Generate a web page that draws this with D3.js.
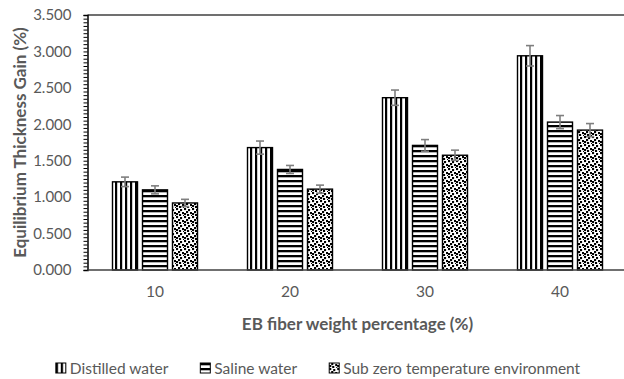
<!doctype html>
<html>
<body>
<style type="text/css">
    html,body{
        margin: 0;
        overflow: hidden;
        background: #fff;
    }
    text {
        font-family: Lato, "Open Sans", sans-serif;
        fill: #595959;
    }
</style>
<script src="https://cdn.jsdelivr.net/npm/d3@7"></script>
<script type="text/javascript">
var categories = ["10", "20", "30", "40"];
var seriesNames = ["Distilled water", "Saline water", "Sub zero temperature environment"];
var distilled = [1.21, 1.68, 2.365, 2.94];
var saline = [1.10, 1.38, 1.71, 2.03];
var subZero = [0.92, 1.11, 1.575, 1.92];
var distilledErr = [0.065, 0.09, 0.105, 0.14];
var salineErr = [0.055, 0.055, 0.08, 0.09];
var subZeroErr = [0.05, 0.055, 0.07, 0.09];
var yTicks = [0, 0.5, 1, 1.5, 2, 2.5, 3, 3.5];

(function(){
    var w = 624, h = 379,
        left = 87.5, right = 627.5, top = 15, bottom = 270;

    var values = [distilled, saline, subZero],
        errors = [distilledErr, salineErr, subZeroErr],
        patterns = ["pVert", "pHoriz", "pDots"];

    var svg = d3.select("body").append("svg")
        .attr("width", w)
        .attr("height", h);

    // patterns
    var defs = svg.append("defs");
    var pv = defs.append("pattern").attr("id", "pVert")
        .attr("patternUnits", "userSpaceOnUse").attr("width", 5).attr("height", 5);
    pv.append("rect").attr("width", 5).attr("height", 5).attr("fill", "#fff");
    pv.append("rect").attr("x", 0).attr("width", 2.2).attr("height", 5).attr("fill", "#000");

    var ph = defs.append("pattern").attr("id", "pHoriz")
        .attr("patternUnits", "userSpaceOnUse").attr("width", 5).attr("height", 5);
    ph.append("rect").attr("width", 5).attr("height", 5).attr("fill", "#fff");
    ph.append("rect").attr("y", 0).attr("width", 5).attr("height", 2.3).attr("fill", "#000");

    var pd = defs.append("pattern").attr("id", "pDots")
        .attr("patternUnits", "userSpaceOnUse").attr("width", 8).attr("height", 8);
    pd.append("rect").attr("width", 8).attr("height", 8).attr("fill", "#fff");
    [[0,0],[4,1],[2,3],[6,4],[0,5],[3,6],[7,7]].forEach(function(p){
        pd.append("rect").attr("x", p[0]).attr("y", p[1])
            .attr("width", 2.1).attr("height", 2.1).attr("fill", "#000");
    });

    var x = d3.scaleBand().domain(categories).range([left, right]);
    var xs = d3.scaleBand().domain(d3.range(3)).range([25, 110]).paddingInner(1/6);
    var y = d3.scaleLinear().domain([0, 3.5]).range([bottom, top]);

    // top border
    svg.append("line")
        .attr("x1", left).attr("x2", w).attr("y1", y(3.5)).attr("y2", y(3.5))
        .attr("stroke", "#404040").attr("stroke-width", 1.3);

    // bars
    var groups = svg.selectAll("g.series").data(values).enter().append("g")
        .attr("class", "series");
    groups.each(function(vals, si){
        var g = d3.select(this);
        g.selectAll("rect").data(vals).enter().append("rect")
            .attr("x", function(d, i){ return x(categories[i]) + xs(si); })
            .attr("y", function(d){ return y(d); })
            .attr("width", xs.bandwidth())
            .attr("height", function(d){ return y(0) - y(d); })
            .attr("fill", "url(#" + patterns[si] + ")")
            .attr("stroke", "#000")
            .attr("stroke-width", 1.4);
    });

    // error bars
    groups.each(function(vals, si){
        var g = d3.select(this);
        vals.forEach(function(d, i){
            var cx = x(categories[i]) + xs(si) + xs.bandwidth() / 2,
                e = errors[si][i];
            g.append("line").attr("x1", cx).attr("x2", cx)
                .attr("y1", y(d + e)).attr("y2", y(d - e))
                .attr("stroke", "#7f7f7f").attr("stroke-width", 1.6);
            [d + e, d - e].forEach(function(v){
                g.append("line").attr("x1", cx - 4).attr("x2", cx + 4)
                    .attr("y1", y(v)).attr("y2", y(v))
                    .attr("stroke", "#7f7f7f").attr("stroke-width", 1.6);
            });
        });
    });

    // y axis minor ticks
    var minor = d3.range(0, 3.5001, 0.05);
    svg.append("g").attr("transform", "translate(" + left + ",0)")
        .call(d3.axisLeft(y).tickValues(minor).tickSize(4).tickFormat(""))
        .call(function(g){
            g.selectAll("line").attr("stroke", "#000").attr("stroke-width", 1);
            g.select(".domain").attr("stroke", "#000").attr("stroke-width", 1.5);
        });

    // y labels
    svg.append("g").attr("transform", "translate(" + left + ",0)")
        .call(d3.axisLeft(y).tickValues(yTicks).tickSize(0).tickPadding(16)
            .tickFormat(d3.format(".3f")))
        .call(function(g){
            g.select(".domain").remove();
            g.selectAll("text").style("font-size", "15px")
                .style("font-family", "Lato, sans-serif").attr("fill", "#595959");
        });

    // x axis
    svg.append("g").attr("transform", "translate(0," + bottom + ")")
        .call(d3.axisBottom(x).tickSize(0).tickPadding(16))
        .call(function(g){
            g.select(".domain").attr("stroke", "#404040").attr("stroke-width", 1.3)
                .attr("d", "M" + left + ",0H" + w);
            g.selectAll("text").style("font-size", "15.5px")
                .style("font-family", "Lato, sans-serif").attr("fill", "#595959");
        });

    // axis titles
    svg.append("text")
        .attr("x", (left + right) / 2).attr("y", 330)
        .attr("text-anchor", "middle")
        .style("font-size", "17px").style("font-weight", "bold")
        .text("EB fiber weight percentage (%)");

    svg.append("text")
        .attr("transform", "translate(26," + ((top + bottom) / 2) + ") rotate(-90)")
        .attr("text-anchor", "middle")
        .style("font-size", "17px").style("font-weight", "bold")
        .text("Equilibrium Thickness Gain (%)");

    // legend
    var legend = svg.append("g");
    var xPos = 0;
    seriesNames.forEach(function(name, i){
        var item = legend.append("g").attr("transform", "translate(" + xPos + ",0)");
        item.append("rect").attr("x", 0).attr("y", -5).attr("width", 10).attr("height", 10)
            .attr("fill", "url(#" + patterns[i] + ")").attr("stroke", "#000").attr("stroke-width", 1);
        var t = item.append("text").attr("x", 14).attr("y", 5.5)
            .style("font-size", "15.5px").text(name);
        xPos += 14 + t.node().getComputedTextLength() + 32;
    });
    var legW = xPos - 32;
    legend.attr("transform", "translate(" + (318 - legW / 2) + ",368)");
})();
</script>
</body>
</html>
